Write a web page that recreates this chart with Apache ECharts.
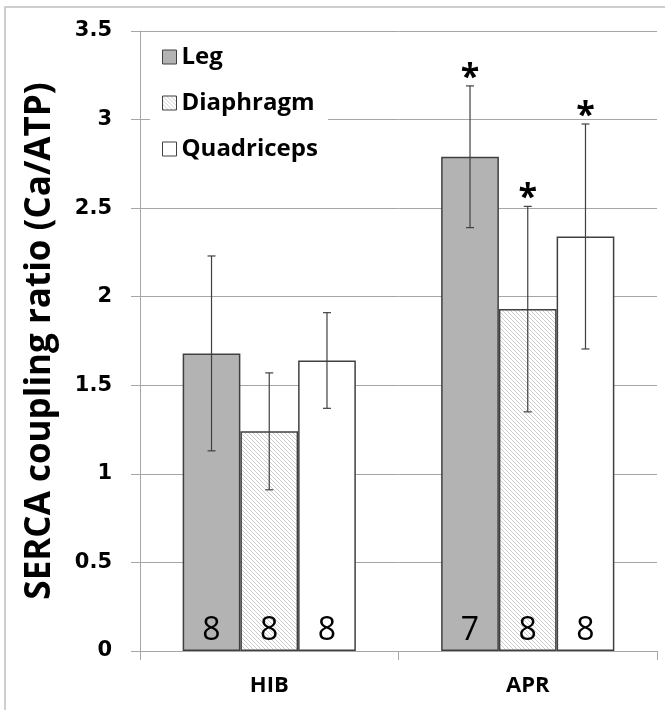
<!DOCTYPE html>
<html>
<head>
<meta charset="utf-8">
<script src="https://cdn.jsdelivr.net/npm/echarts@6/dist/echarts.min.js"></script>
<style>
  html, body { margin: 0; padding: 0; background: #fff; }
  #chart { width: 665px; height: 710px; }
</style>
</head>
<body>
<div id="chart"></div>
<script>
// data
const categories = ['HIB', 'APR'];
const muscles = ['Leg', 'Diaphragm', 'Quadriceps'];
const legMean = [1.68, 2.79];
const legErr = [0.55, 0.40];
const diaMean = [1.24, 1.93];
const diaErr = [0.33, 0.58];
const quadMean = [1.64, 2.34];
const quadErr = [0.27, 0.635];
const legN = [8, 7];
const diaN = [8, 8];
const quadN = [8, 8];
const legSig = [0, 1];
const diaSig = [0, 1];
const quadSig = [0, 1];
const yTicks = [0, 0.5, 1, 1.5, 2, 2.5, 3, 3.5];

const FONT = '"Open Sans"';
const EDGE = '#404040';
const GRID = '#a6a6a6';
const CAT_GAP = 0.33;

// hatch fill for diaphragm
function hatch() {
  const c = document.createElement('canvas');
  c.width = 4; c.height = 4;
  const g = c.getContext('2d');
  g.fillStyle = '#ffffff';
  g.fillRect(0, 0, 4, 4);
  g.strokeStyle = '#cccccc';
  g.lineWidth = 1;
  g.beginPath();
  g.moveTo(-1, -1); g.lineTo(5, 5);
  g.moveTo(-1, 3); g.lineTo(1, 5);
  g.moveTo(3, -1); g.lineTo(5, 1);
  g.stroke();
  return c;
}

const groups = [
  { name: muscles[0], mean: legMean, err: legErr, n: legN, sig: legSig, fill: '#b3b3b3' },
  { name: muscles[1], mean: diaMean, err: diaErr, n: diaN, sig: diaSig, fill: { image: hatch(), repeat: 'repeat' } },
  { name: muscles[2], mean: quadMean, err: quadErr, n: quadN, sig: quadSig, fill: '#ffffff' }
];

const chart = echarts.init(document.getElementById('chart'));

function errorRender(k) {
  return function (params, api) {
    const ci = api.value(0);
    const p = api.coord([ci, api.value(1)]);
    const band = api.size([1, 0])[0];
    const bw = band * (1 - CAT_GAP) / 3;
    const x = p[0] + (k - 1) * bw;
    const hi = api.coord([ci, api.value(1) + api.value(2)])[1];
    const lo = api.coord([ci, api.value(1) - api.value(2)])[1];
    const style = { stroke: EDGE, lineWidth: 1.2 };
    const kids = [
      { type: 'line', shape: { x1: x, y1: hi, x2: x, y2: lo }, style },
      { type: 'line', shape: { x1: x - 4, y1: hi, x2: x + 4, y2: hi }, style },
      { type: 'line', shape: { x1: x - 4, y1: lo, x2: x + 4, y2: lo }, style }
    ];
    if (api.value(3)) {
      kids.push({
        type: 'text',
        style: {
          text: '*', x: x, y: hi - 8,
          align: 'center', verticalAlign: 'middle',
          font: 'bold 34px ' + FONT, fill: '#000'
        }
      });
    }
    return { type: 'group', children: kids };
  };
}

const series = [];
groups.forEach(function (g) {
  series.push({
    name: g.name,
    type: 'bar',
    data: g.mean,
    barGap: '0%',
    barCategoryGap: (CAT_GAP * 100) + '%',
    itemStyle: { color: g.fill, borderColor: EDGE, borderWidth: 1.5 },
    label: {
      show: true,
      position: 'insideBottom',
      distance: 4,
      formatter: function (p) { return String(g.n[p.dataIndex]); },
      fontFamily: FONT,
      fontSize: 32,
      color: '#000'
    },
    emphasis: { disabled: true },
    z: 2
  });
});
groups.forEach(function (g, k) {
  series.push({
    type: 'custom',
    renderItem: errorRender(k),
    data: g.mean.map(function (m, i) { return [i, m, g.err[i], g.sig[i]]; }),
    z: 5,
    silent: true
  });
});

chart.setOption({
  animation: false,
  backgroundColor: '#fff',
  graphic: [{
    type: 'rect',
    shape: { x: 5, y: 7, width: 720, height: 760 },
    style: { fill: 'none', stroke: '#c0c0c0', lineWidth: 1.5 },
    silent: true
  }],
  grid: { left: 140, right: 8, top: 31, bottom: 59 },
  legend: {
    data: muscles,
    orient: 'vertical',
    icon: 'rect',
    left: 150,
    top: 36,
    padding: [8, 10, 8, 12],
    backgroundColor: '#fff',
    itemWidth: 14,
    itemHeight: 14,
    itemGap: 20,
    itemStyle: { borderColor: EDGE, borderWidth: 1 },
    textStyle: { fontFamily: FONT, fontWeight: 'bold', fontSize: 24, color: '#000', lineHeight: 26 },
    selectedMode: false,
    z: 10
  },
  xAxis: {
    type: 'category',
    data: categories,
    axisLine: { lineStyle: { color: GRID, width: 1 } },
    axisTick: { show: true, length: 9, lineStyle: { color: GRID } },
    axisLabel: { fontFamily: FONT, fontWeight: 'bold', fontSize: 22, color: '#000', margin: 24 }
  },
  yAxis: {
    type: 'value',
    min: yTicks[0],
    max: yTicks[yTicks.length - 1],
    interval: 0.5,
    name: 'SERCA coupling ratio (Ca/ATP)',
    nameLocation: 'middle',
    nameGap: 82,
    nameTextStyle: { fontFamily: FONT, fontWeight: 'bold', fontSize: 35, color: '#000' },
    axisLine: { show: true, lineStyle: { color: GRID, width: 1 } },
    axisTick: { show: true, length: 9, lineStyle: { color: GRID } },
    axisLabel: { fontFamily: '"DejaVu Sans"', fontWeight: 'bold', fontSize: 21, color: '#000', margin: 28 },
    splitLine: { show: true, lineStyle: { color: GRID, width: 1 } }
  },
  series: series
});
</script>
</body>
</html>
